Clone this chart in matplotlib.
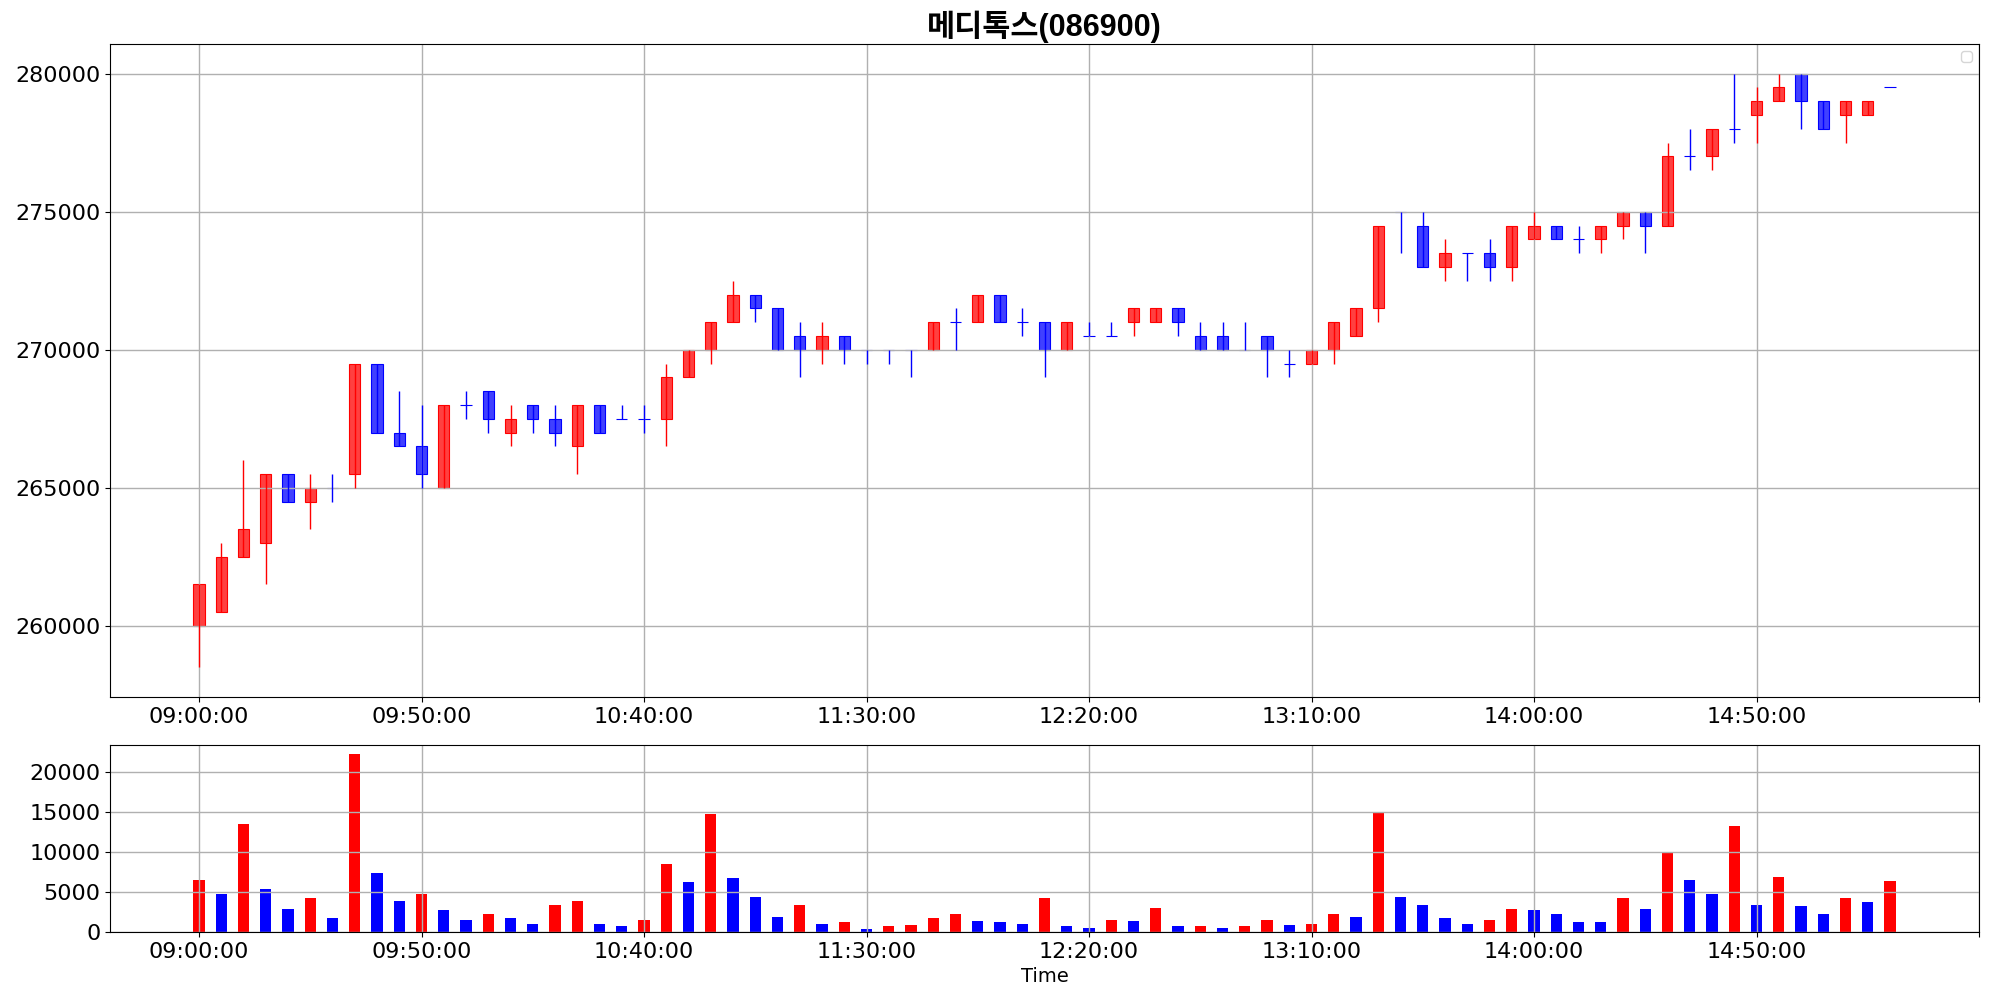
import numpy as np
import pandas as pd
import matplotlib
matplotlib.use("Agg")
import matplotlib.pyplot as plt

# 5-minute candles, 09:00 ~ 15:20
times = pd.date_range("09:00", "15:20", freq="5min").strftime("%H:%M:%S").tolist()

open_ = [260000, 260500, 262500, 263000, 265500, 264500, 265000, 265500, 269500, 267000,
         266500, 265000, 268000, 268500, 267000, 268000, 267500, 266500, 268000, 267500,
         267500, 267500, 269000, 270000, 271000, 272000, 271500, 270500, 270000, 270500,
         270000, 270000, 270000, 270000, 271000, 271000, 272000, 271000, 271000, 270000,
         270500, 270500, 271000, 271000, 271500, 270500, 270500, 270000, 270500, 269500,
         269500, 270000, 270500, 271500, 275000, 274500, 273000, 273500, 273500, 273000,
         274000, 274500, 274000, 274000, 274500, 275000, 274500, 277000, 277000, 278000,
         278500, 279000, 280000, 279000, 278500, 278500, 279500]
high = [261500, 263000, 266000, 265500, 265500, 265500, 265500, 269500, 269500, 268500,
        268000, 268000, 268500, 268500, 268000, 268000, 268000, 268000, 268000, 268000,
        268000, 269500, 270000, 271000, 272500, 272000, 271500, 271000, 271000, 270500,
        270000, 270000, 270000, 271000, 271500, 272000, 272000, 271500, 271000, 271000,
        271000, 271000, 271500, 271500, 271500, 271000, 271000, 271000, 270500, 270000,
        270000, 271000, 271500, 274500, 275000, 275000, 274000, 273500, 274000, 274500,
        275000, 274500, 274500, 274500, 275000, 275000, 277500, 278000, 278000, 280000,
        279500, 280000, 280000, 279000, 279000, 279000, 279500]
low = [258500, 260500, 262500, 261500, 264500, 263500, 264500, 265000, 267000, 266500,
       265000, 265000, 267500, 267000, 266500, 267000, 266500, 265500, 267000, 267500,
       267000, 266500, 269000, 269500, 271000, 271000, 270000, 269000, 269500, 269500,
       269500, 269500, 269000, 270000, 270000, 271000, 271000, 270500, 269000, 270000,
       270500, 270500, 270500, 271000, 270500, 270000, 270000, 270000, 269000, 269000,
       269500, 269500, 270500, 271000, 273500, 273000, 272500, 272500, 272500, 272500,
       274000, 274000, 273500, 273500, 274000, 273500, 274500, 276500, 276500, 277500,
       277500, 279000, 278000, 278000, 277500, 278500, 279500]
close = [261500, 262500, 263500, 265500, 264500, 265000, 265000, 269500, 267000, 266500,
         265500, 268000, 268000, 267500, 267500, 267500, 267000, 268000, 267000, 267500,
         267500, 269000, 270000, 271000, 272000, 271500, 270000, 270000, 270500, 270000,
         270000, 270000, 270000, 271000, 271000, 272000, 271000, 271000, 270000, 271000,
         270500, 270500, 271500, 271500, 271000, 270000, 270000, 270000, 270000, 269500,
         270000, 271000, 271500, 274500, 275000, 273000, 273500, 273500, 273000, 274500,
         274500, 274000, 274000, 274500, 275000, 274500, 277000, 277000, 278000, 278000,
         279000, 279500, 279000, 278000, 279000, 279000, 279500]
volume = [6500, 4700, 13400, 5300, 2900, 4200, 1800, 22200, 7400, 3900,
          4700, 2800, 1500, 2200, 1800, 1000, 3400, 3800, 1000, 700,
          1500, 8500, 6200, 14700, 6700, 4300, 1900, 3400, 1000, 1300,
          400, 800, 900, 1700, 2200, 1400, 1300, 1000, 4200, 700,
          500, 1500, 1400, 3000, 750, 800, 500, 800, 1500, 900,
          1000, 2200, 1900, 14900, 4400, 3300, 1700, 1000, 1500, 2900,
          2700, 2200, 1300, 1200, 4200, 2900, 9900, 6500, 4700, 13200,
          3400, 6800, 3200, 2300, 4200, 3700, 6300]

x = np.arange(len(times))
o = np.array(open_)
c = np.array(close)
up = c > o
edge = np.where(up, "red", "blue")
face = [(1, 0, 0, 0.75) if u else (0, 0, 1, 0.75) for u in up]

vol = np.array(volume)
vol_up = np.concatenate([[True], vol[1:] > vol[:-1]])
vol_col = np.where(vol_up, "red", "blue")

plt.rcParams['font.family'] = ['DejaVu Sans']
fig = plt.figure(figsize=(19.89, 9.99), dpi=100)
ax1 = fig.add_axes([0.0553, 0.3023, 0.9397, 0.6537])
ax2 = fig.add_axes([0.0553, 0.0671, 0.9397, 0.1872])

# candles
ax1.bar(x, c - o, bottom=o, width=0.5, color=face, edgecolor=edge, linewidth=0.8)
ax1.vlines(x, low, high, colors=edge, linewidth=1)
ax1.set_title("메디톡스(086900)", fontsize=22, fontweight="bold",
              family=["Liberation Sans", "Noto Sans CJK KR"])
ax1.set_ylim(257425, 281075)
ax1.set_yticks(np.arange(260000, 280001, 5000))
ax1.ticklabel_format(axis="y", style="plain", useOffset=False)
ax1.legend(handles=[], loc="upper right")
ax1.grid(True, linewidth=1)

# volume
ax2.bar(x, vol, width=0.5, color=vol_col)
ax2.set_yticks(np.arange(0, 20001, 5000))
ax2.set_xlabel("Time", fontsize=14)
ax2.grid(True, linewidth=1)

tick_pos = np.arange(0, 81, 10)
tick_lab = [times[i] if i < len(times) else "" for i in tick_pos]
for ax in (ax1, ax2):
    ax.set_xlim(-4, 80)
    ax.set_xticks(tick_pos)
    ax.set_xticklabels(tick_lab)
    ax.tick_params(labelsize=16)

fig.savefig("out.png", dpi=100)
